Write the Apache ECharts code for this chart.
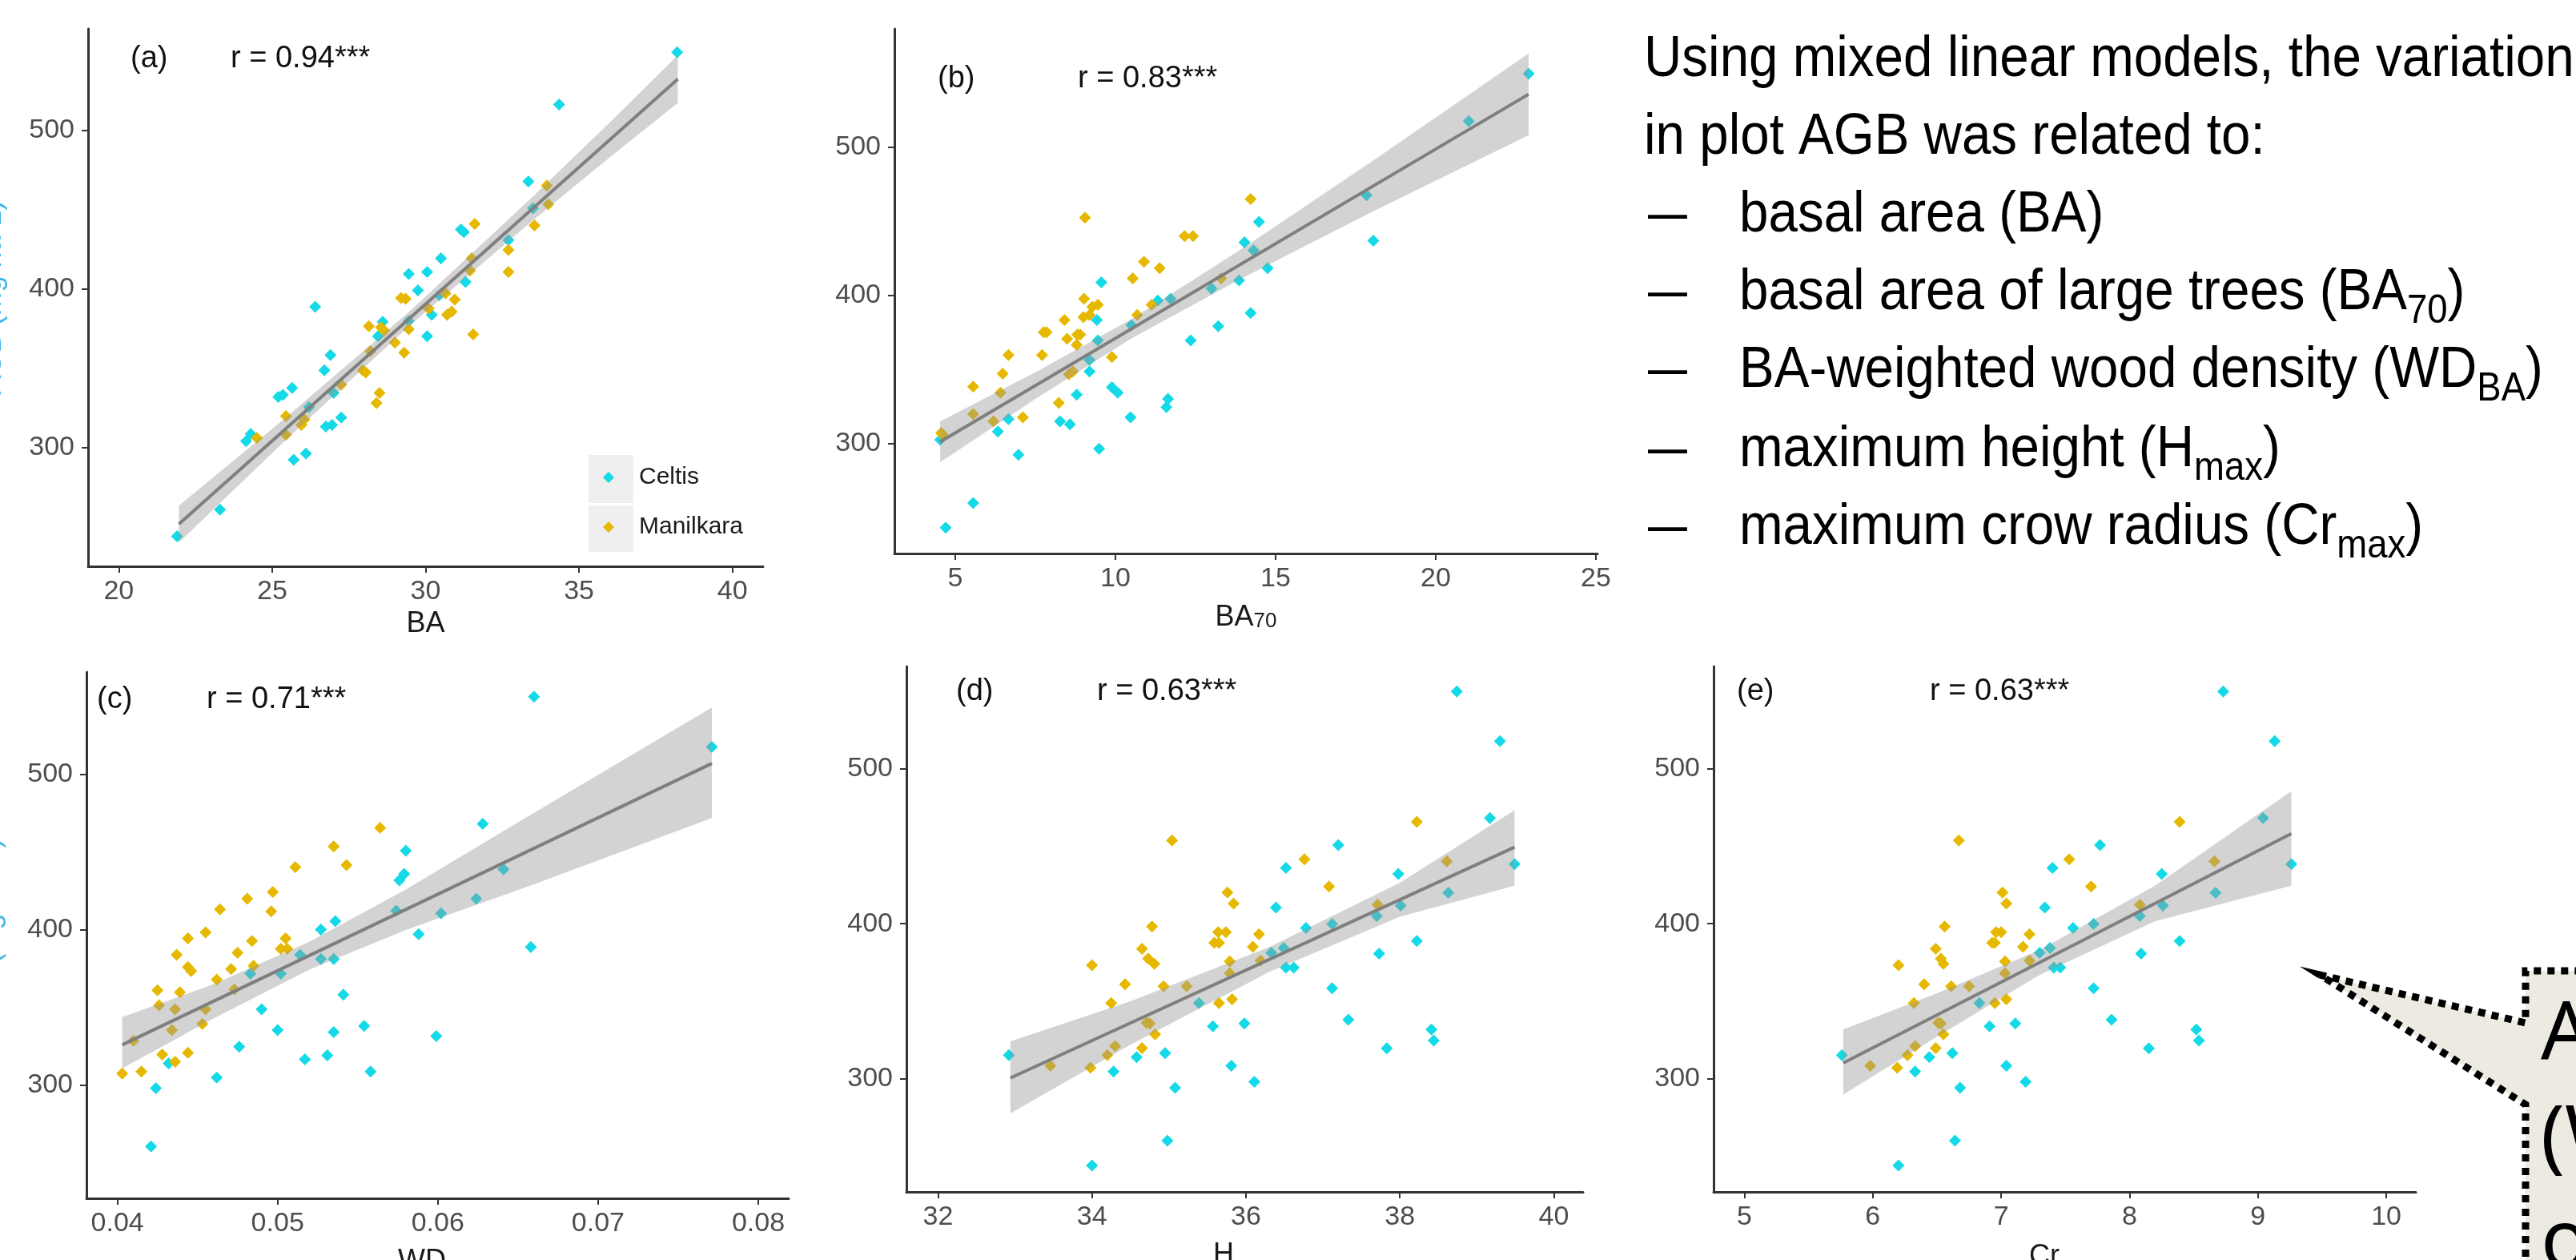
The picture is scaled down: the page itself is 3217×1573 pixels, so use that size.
<!DOCTYPE html>
<html>
<head>
<meta charset="utf-8">
<script src="https://cdn.jsdelivr.net/npm/echarts@6/dist/echarts.min.js"></script>
<style>
html, body { margin: 0; padding: 0; background: #fff; }
#main { width: 3217px; height: 1573px; }
</style>
</head>
<body>
<div id="main"></div>
<script>
// AGB of plots against stand variables, two species groups
var agbTicks = [300, 400, 500];
var baTicks = [20, 25, 30, 35, 40];
var ba70Ticks = [5, 10, 15, 20, 25];
var wdTicks = [0.04, 0.05, 0.06, 0.07, 0.08];
var hTicks = [32, 34, 36, 38, 40];
var crTicks = [5, 6, 7, 8, 9, 10];

// (a) BA
var celtisBA = [[21.9,243.9],[23.3,260.7],[24.15,303.9],[24.3,308.5],[25.2,331.8],[25.35,333.1],[25.65,337.5],[25.7,292.2],[26.1,296.1],[26.2,325.4],[26.4,388.7],[26.7,348.6],[26.75,313.2],[26.95,314.2],[26.9,358.2],[27.0,334.4],[27.25,318.9],[28.45,370.1],[28.6,379.2],[29.45,409.4],[29.45,379.7],[29.75,399.1],[30.05,410.7],[30.05,370.1],[30.2,383.6],[30.45,396.0],[30.5,419.3],[31.15,437.4],[31.25,435.8],[31.3,404.3],[32.7,430.7],[33.35,467.7],[33.5,450.8],[34.35,516.3],[38.2,549.2]];
var manilBA = [[24.5,306.0],[25.45,319.7],[25.45,308.0],[25.95,314.2],[26.05,317.6],[27.25,339.6],[27.95,348.6],[28.05,347.3],[28.15,376.5],[28.4,327.9],[28.5,334.4],[28.2,360.7],[28.55,375.7],[28.65,373.6],[29.0,366.1],[29.2,394.3],[29.35,393.8],[29.3,359.8],[29.45,374.5],[30.1,387.5],[30.65,397.1],[30.7,383.6],[30.85,385.6],[30.95,393.3],[31.45,411.5],[31.5,419.3],[31.55,371.2],[31.6,441.0],[32.7,424.5],[32.7,410.7],[33.55,440.0],[33.95,465.1],[34.0,453.4]];
var fitBA = [[21.96,251.6],[38.22,532.3]];
var bandBA = [[21.96,240.0,263.3],[25.5,305.7,319.7],[29.5,377.2,386.2],[33.5,443.3,458.3],[36.0,482.9,504.9],[38.22,517.3,547.3]];

// (b) BA70
var celtisBA70 = [[4.53,302.8],[4.7,243.4],[5.56,260.0],[6.33,308.3],[6.66,316.6],[6.97,292.6],[8.27,315.2],[8.58,313.2],[8.79,333.1],[9.19,348.8],[9.19,356.6],[9.42,383.6],[9.45,369.8],[9.49,296.7],[9.56,409.0],[9.89,338.1],[10.07,334.5],[10.47,317.9],[10.5,380.0],[11.32,396.6],[11.59,324.8],[11.64,330.3],[11.72,397.9],[12.35,369.8],[13.0,404.8],[13.21,379.4],[13.86,410.3],[14.03,436.0],[14.22,388.3],[14.31,430.5],[14.48,449.8],[14.75,418.6],[17.84,467.7],[18.05,437.1],[21.03,517.7],[22.9,549.7]];
var manilBA70 = [[4.56,307.4],[4.6,306.3],[5.56,338.6],[5.56,320.1],[6.19,315.2],[6.41,334.5],[6.48,347.4],[6.66,359.9],[7.11,317.9],[7.71,359.9],[7.76,375.3],[7.85,375.3],[8.23,327.6],[8.41,383.6],[8.49,370.9],[8.55,346.9],[8.67,348.8],[8.79,366.8],[8.81,373.7],[8.9,373.7],[9.0,385.5],[9.02,397.9],[9.05,452.6],[9.19,386.9],[9.28,392.4],[9.45,393.8],[9.89,358.5],[10.54,411.7],[10.68,386.9],[10.89,422.8],[11.13,393.8],[11.38,418.6],[12.16,440.1],[12.42,440.1],[13.3,411.7],[14.22,465.2]];
var fitBA70 = [[4.53,301.4],[22.9,535.9]];
var bandBA70 = [[4.53,287.6,315.2],[7.5,330.3,348.3],[10.5,371.1,384.1],[14.0,412.3,432.3],[18.0,456.4,490.4],[22.9,508.3,563.4]];

// (c) WD
var celtisWD = [[0.0421,260.4],[0.0424,298.0],[0.0432,314.0],[0.0462,304.8],[0.0476,324.6],[0.0483,371.7],[0.049,348.8],[0.05,335.3],[0.0502,371.7],[0.0514,383.9],[0.0517,316.5],[0.0527,400.1],[0.0527,381.1],[0.0531,319.1],[0.0535,381.1],[0.0535,334.1],[0.0536,405.5],[0.0541,358.2],[0.0554,338.1],[0.0558,308.6],[0.0574,412.3],[0.0576,431.9],[0.0579,436.0],[0.058,451.0],[0.0588,397.1],[0.0599,331.5],[0.0602,410.5],[0.0624,420.0],[0.0628,468.2],[0.0641,439.0],[0.0658,388.9],[0.066,550.1],[0.0771,517.8]];
var manilWD = [[0.0403,307.4],[0.041,328.5],[0.0415,308.6],[0.0425,361.0],[0.0426,351.3],[0.0428,319.6],[0.0434,335.3],[0.0436,315.0],[0.0436,348.8],[0.0437,383.9],[0.0439,359.7],[0.0444,320.8],[0.0444,394.5],[0.0444,376.0],[0.0446,373.4],[0.0453,339.4],[0.0455,398.3],[0.0455,348.8],[0.0462,367.9],[0.0464,413.1],[0.0471,374.7],[0.0473,361.5],[0.0475,385.1],[0.0481,420.0],[0.0484,392.8],[0.0485,376.7],[0.0496,411.8],[0.0497,424.3],[0.0502,387.7],[0.0505,394.5],[0.0506,387.7],[0.0511,440.3],[0.0535,453.7],[0.0543,441.6],[0.0564,465.7]];
var fitWD = [[0.0403,325.9],[0.0771,507.1]];
var bandWD = [[0.0403,310.7,343.7],[0.046,342.9,364.9],[0.052,374.4,392.4],[0.058,399.9,425.9],[0.066,429.3,475.3],[0.0771,472.0,543.2]];

// (d) H
var celtisH = [[32.92,315.2],[34.0,244.1],[34.28,304.6],[34.58,314.0],[34.95,316.5],[34.98,260.1],[35.08,294.2],[35.39,348.8],[35.57,333.8],[35.81,308.4],[35.98,335.6],[36.11,298.0],[36.33,381.3],[36.39,410.5],[36.49,384.4],[36.52,436.0],[36.52,371.7],[36.62,371.7],[36.78,397.3],[37.12,358.4],[37.12,399.9],[37.2,450.7],[37.33,338.1],[37.7,405.0],[37.73,380.8],[37.83,319.6],[37.98,432.1],[38.01,411.8],[38.22,388.9],[38.41,331.8],[38.44,324.7],[38.63,420.0],[38.74,549.8],[39.17,468.2],[39.3,517.8],[39.49,438.5]];
var manilH = [[33.46,308.4],[33.98,307.1],[34.0,373.2],[34.2,315.2],[34.25,348.8],[34.3,321.1],[34.43,361.0],[34.65,319.8],[34.65,383.9],[34.71,336.1],[34.73,377.5],[34.75,335.6],[34.78,398.2],[34.81,374.2],[34.82,328.7],[34.93,359.7],[35.04,453.7],[35.23,359.7],[35.59,387.7],[35.64,394.5],[35.65,387.7],[35.65,348.8],[35.74,394.5],[35.76,420.2],[35.79,375.7],[35.79,368.1],[35.82,351.3],[35.84,413.1],[36.09,385.1],[36.17,393.3],[36.19,376.2],[36.76,441.6],[37.08,424.0],[37.71,412.3],[38.22,465.7],[38.61,440.3]];
var fitH = [[32.94,300.5],[39.49,449.4]];
var bandH = [[32.94,277.6,324.1],[34.5,322.0,350.0],[36.3,368.9,384.9],[38.0,404.5,426.5],[39.49,424.5,473.3]];

// (e) Cr
var celtisCr = [[5.76,315.2],[6.2,244.1],[6.33,304.6],[6.44,314.0],[6.62,316.5],[6.64,260.1],[6.68,294.2],[6.83,348.8],[6.91,333.8],[7.04,308.4],[7.11,335.6],[7.19,298.0],[7.3,381.3],[7.34,410.5],[7.38,384.4],[7.4,436.0],[7.41,371.7],[7.46,371.7],[7.56,397.3],[7.72,358.4],[7.72,399.9],[7.77,450.7],[7.86,338.1],[8.08,405.0],[8.09,380.8],[8.15,319.6],[8.25,432.1],[8.26,411.8],[8.39,388.9],[8.52,331.8],[8.54,324.7],[8.67,420.0],[8.73,549.8],[9.04,468.2],[9.13,517.8],[9.26,438.5]];
var manilCr = [[5.98,308.4],[6.19,307.1],[6.2,373.2],[6.27,315.2],[6.32,348.8],[6.33,321.1],[6.4,361.0],[6.49,319.8],[6.49,383.9],[6.51,336.1],[6.53,377.5],[6.53,335.6],[6.56,398.2],[6.55,374.2],[6.55,328.7],[6.61,359.7],[6.67,453.7],[6.75,359.7],[6.93,387.7],[6.96,394.5],[6.95,387.7],[6.95,348.8],[7.0,394.5],[7.01,420.2],[7.03,375.7],[7.03,368.1],[7.04,351.3],[7.04,413.1],[7.17,385.1],[7.22,393.3],[7.22,376.2],[7.53,441.6],[7.7,424.0],[8.08,412.3],[8.39,465.7],[8.66,440.3]];
var fitCr = [[5.77,310.2],[9.26,458.1]];
var bandCr = [[5.77,289.8,331.8],[6.5,327.1,355.1],[7.3,367.1,383.1],[8.2,401.7,424.7],[9.26,424.5,485.5]];

var FONT = 'Liberation Sans, Arial, sans-serif';
var CELTIS = '#14D9E6';
var MANIL = '#E6B800';

var panels = [
    { tag: '(a)', r: 'r = 0.94***', celtis: celtisBA, manil: manilBA, fit: fitBA, band: bandBA, ticks: baTicks,
      xName: 'BA', box: [110, 36, 843, 671], xr: [19, 41], yr: [225, 564], nameGap: 54, namePad: 0,
      tagPos: [163, 74], rPos: [288, 74], yName: true },
    { tag: '(b)', r: 'r = 0.83***', celtis: celtisBA70, manil: manilBA70, fit: fitBA70, band: bandBA70, ticks: ba70Ticks,
      xName: '{n|BA}{s|70}', box: [1117, 36, 878, 655], xr: [3.1, 25.05], yr: [226, 580], nameGap: 62, namePad: 0,
      tagPos: [1171, 99], rPos: [1346, 99], yName: false },
    { tag: '(c)', r: 'r = 0.71***', celtis: celtisWD, manil: manilWD, fit: fitWD, band: bandWD, ticks: wdTicks,
      xName: 'WD', box: [108, 839, 877, 657], xr: [0.03807, 0.0819], yr: [227, 566], nameGap: 61, namePad: 39,
      tagPos: [121, 874], rPos: [258, 874], yName: true },
    { tag: '(d)', r: 'r = 0.63***', celtis: celtisH, manil: manilH, fit: fitH, band: bandH, ticks: hTicks,
      xName: 'H', box: [1132, 832, 845, 656], xr: [31.59, 40.38], yr: [227, 566], nameGap: 61, namePad: 53,
      tagPos: [1194, 864], rPos: [1370, 864], yName: false },
    { tag: '(e)', r: 'r = 0.63***', celtis: celtisCr, manil: manilCr, fit: fitCr, band: bandCr, ticks: crTicks,
      xName: 'Cr', box: [2140, 832, 877, 656], xr: [4.76, 10.23], yr: [227, 566], nameGap: 63, namePad: 51,
      tagPos: [2169, 864], rPos: [2410, 864], yName: false }
];

function bandRenderer(band) {
    return function (params, api) {
        var pts = [];
        band.forEach(function (b) { pts.push(api.coord([b[0], b[2]])); });
        for (var k = band.length - 1; k >= 0; k--) {
            pts.push(api.coord([band[k][0], band[k][1]]));
        }
        return { type: 'polygon', shape: { points: pts }, style: { fill: 'rgba(150,150,150,0.42)' } };
    };
}

var axisLine = { lineStyle: { color: '#333', width: 3 } };
var tickStyle = { color: '#333', width: 2 };

var grids = [], xAxes = [], yAxes = [], series = [], graphics = [];

panels.forEach(function (p, i) {
    grids.push({ left: p.box[0], top: p.box[1], width: p.box[2], height: p.box[3],
                 containLabel: false, outerBoundsMode: 'none' });
    xAxes.push({
        type: 'value', gridIndex: i, min: p.xr[0], max: p.xr[1],
        name: p.xName, nameLocation: 'middle', nameGap: p.nameGap,
        nameTextStyle: {
            fontSize: 36, fontFamily: FONT, color: '#1a1a1a', padding: [0, p.namePad, 0, 0],
            rich: { n: { fontSize: 36, fontFamily: FONT, color: '#1a1a1a' },
                    s: { fontSize: 26, fontFamily: FONT, color: '#1a1a1a', verticalAlign: 'bottom', lineHeight: 30 } }
        },
        axisLine: axisLine,
        axisTick: { customValues: p.ticks, length: 8, lineStyle: tickStyle },
        axisLabel: { customValues: p.ticks, margin: 15, fontSize: 34, fontFamily: FONT, color: '#4d4d4d' },
        splitLine: { show: false }
    });
    yAxes.push({
        type: 'value', gridIndex: i, min: p.yr[0], max: p.yr[1],
        name: p.yName ? 'AGB (Mg ha-1)' : '', nameLocation: 'middle', nameGap: 101, nameRotate: 90,
        nameTextStyle: { fontSize: 36, fontFamily: FONT, color: '#3cb6e6' },
        axisLine: { show: true, lineStyle: { color: '#333', width: 3 } },
        axisTick: { show: true, customValues: agbTicks, length: 8, lineStyle: tickStyle },
        axisLabel: { customValues: agbTicks, margin: 17, fontSize: 34, fontFamily: FONT, color: '#4d4d4d' },
        splitLine: { show: false }
    });
    series.push({ type: 'scatter', name: 'Celtis', xAxisIndex: i, yAxisIndex: i, data: p.celtis,
        symbol: 'diamond', symbolSize: 15, itemStyle: { color: CELTIS, opacity: 1 }, z: 2 });
    series.push({ type: 'scatter', name: 'Manilkara', xAxisIndex: i, yAxisIndex: i, data: p.manil,
        symbol: 'diamond', symbolSize: 15, itemStyle: { color: MANIL, opacity: 1 }, z: 2 });
    series.push({ type: 'custom', xAxisIndex: i, yAxisIndex: i, data: [p.band[0].slice(0, 2)],
        renderItem: bandRenderer(p.band), silent: true, z: 3 });
    series.push({ type: 'line', xAxisIndex: i, yAxisIndex: i, data: p.fit, showSymbol: false, silent: true,
        lineStyle: { color: '#7f7f7f', width: 4 }, z: 4 });

    graphics.push({ type: 'text', x: p.tagPos[0], y: p.tagPos[1],
        style: { text: p.tag, fontSize: 38, fontFamily: FONT, fill: '#111', verticalAlign: 'middle' } });
    graphics.push({ type: 'text', x: p.rPos[0], y: p.rPos[1],
        style: { text: p.r, fontSize: 38, fontFamily: FONT, fill: '#111', verticalAlign: 'middle' } });
});

// legend key backgrounds
graphics.push({ type: 'rect', shape: { x: 735, y: 568, width: 56, height: 60 }, style: { fill: '#efefef' }, z: 0 });
graphics.push({ type: 'rect', shape: { x: 735, y: 631, width: 56, height: 58 }, style: { fill: '#efefef' }, z: 0 });

// text block on the right
var richText = {
    s: { fontSize: 50, fontFamily: FONT, lineHeight: 50, verticalAlign: 'bottom', fill: '#000' }
};
var blockLines = [
    { x: 2053, y: 99, text: 'Using mixed linear models, the variation' },
    { x: 2053, y: 196, text: 'in plot AGB was related to:' },
    { x: 2172, y: 293, text: 'basal area (BA)', dash: true },
    { x: 2172, y: 390, text: 'basal area of large trees (BA{s|70})', dash: true },
    { x: 2172, y: 487, text: 'BA-weighted wood density (WD{s|BA})', dash: true },
    { x: 2172, y: 586, text: 'maximum height (H{s|max})', dash: true },
    { x: 2172, y: 683, text: 'maximum crow radius (Cr{s|max})', dash: true }
];
blockLines.forEach(function (l) {
    graphics.push({ type: 'text', x: l.x, y: l.y - 24, scaleX: 0.91,
        style: { text: l.text, fontSize: 72, fontFamily: FONT, fill: '#000', lineHeight: 97,
                 verticalAlign: 'middle', rich: richText } });
    if (l.dash) {
        graphics.push({ type: 'text', x: 2058, y: l.y - 24, scaleX: 0.68,
            style: { text: '\u2014', fontSize: 72, fontFamily: FONT, fill: '#000', verticalAlign: 'middle' } });
    }
});

// callout in the lower right corner
graphics.push({ type: 'polygon', z: 5,
    shape: { points: [[3154, 1620], [3154, 1379], [2897, 1217], [3154, 1277], [3154, 1212], [3260, 1212], [3260, 1620]] },
    style: { fill: '#edebe1', stroke: '#000', lineWidth: 9, lineDash: [9, 8] } });
[['A', 1294], ['(W', 1424], ['o', 1554]].forEach(function (t) {
    graphics.push({ type: 'text', x: 3173, y: t[1], z: 6,
        style: { text: t[0], fontSize: 100, fontFamily: 'Noto Sans, Liberation Sans, sans-serif', fill: '#000', verticalAlign: 'middle' } });
});

var chart = echarts.init(document.getElementById('main'), null, { width: 3217, height: 1573 });
chart.setOption({
    animation: false,
    backgroundColor: '#fff',
    textStyle: { fontFamily: FONT },
    grid: grids,
    xAxis: xAxes,
    yAxis: yAxes,
    legend: {
        data: ['Celtis', 'Manilkara'], orient: 'vertical', left: 753, top: 578, padding: 0,
        itemWidth: 14, itemHeight: 14, itemGap: 26, icon: 'diamond', selectedMode: false,
        textStyle: { fontSize: 30, fontFamily: FONT, color: '#1a1a1a', lineHeight: 36, padding: [0, 0, 0, 26] }
    },
    series: series,
    graphic: graphics
});
</script>
</body>
</html>
